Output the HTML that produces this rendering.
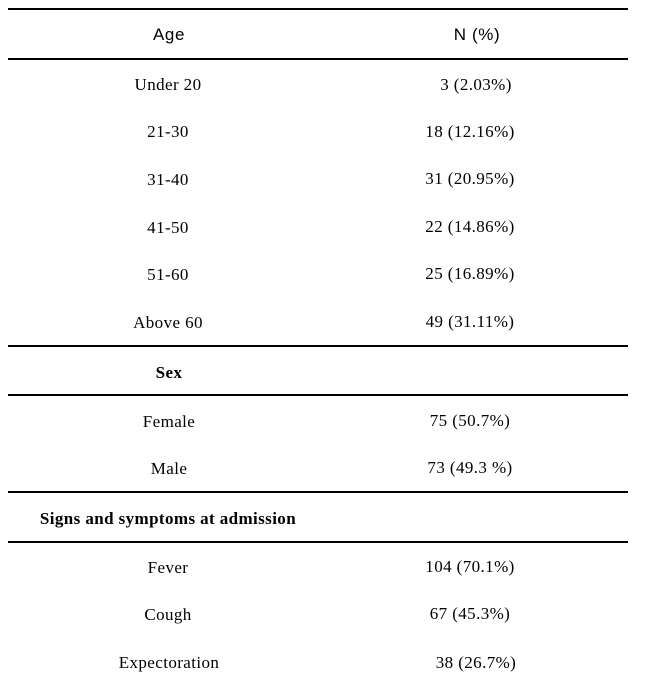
<!DOCTYPE html>
<html><head><style>
body{margin:0;width:647px;height:679px;background:#fff;position:relative;overflow:hidden;font-family:"Liberation Serif",serif;font-size:17px;letter-spacing:0.4px;color:#000}
.l{position:absolute;left:8px;width:620px;height:2px;background:#000}
.t{position:absolute;transform:translate(-50%,-50%);white-space:nowrap}
.s{font-family:"Liberation Sans",sans-serif;font-size:17px;letter-spacing:0.6px}
b{font-weight:bold}
</style></head><body>
<div class="l" style="top:8px"></div>
<div class="l" style="top:58px"></div>
<div class="l" style="top:345px"></div>
<div class="l" style="top:394px"></div>
<div class="l" style="top:491px"></div>
<div class="l" style="top:541px"></div>
<div class="t s" style="left:169px;top:35px">Age</div>
<div class="t s" style="left:477px;top:35px">N (%)</div>
<div class="t" style="left:168px;top:85px">Under 20</div><div class="t" style="left:476px;top:85px">3 (2.03%)</div>
<div class="t" style="left:168px;top:132px">21-30</div><div class="t" style="left:470px;top:132px">18 (12.16%)</div>
<div class="t" style="left:168px;top:180px">31-40</div><div class="t" style="left:470px;top:179px">31 (20.95%)</div>
<div class="t" style="left:168px;top:228px">41-50</div><div class="t" style="left:470px;top:227px">22 (14.86%)</div>
<div class="t" style="left:168px;top:275px">51-60</div><div class="t" style="left:470px;top:274px">25 (16.89%)</div>
<div class="t" style="left:168px;top:323px">Above 60</div><div class="t" style="left:470px;top:322px">49 (31.11%)</div>
<div class="t" style="left:169px;top:373px"><b>Sex</b></div>
<div class="t" style="left:169px;top:422px">Female</div><div class="t" style="left:470px;top:421px">75 (50.7%)</div>
<div class="t" style="left:169px;top:469px">Male</div><div class="t" style="left:470px;top:468px">73 (49.3 %)</div>
<div class="t" style="left:168px;top:519px"><b>Signs and symptoms at admission</b></div>
<div class="t" style="left:168px;top:568px">Fever</div><div class="t" style="left:470px;top:567px">104 (70.1%)</div>
<div class="t" style="left:168px;top:615px">Cough</div><div class="t" style="left:470px;top:614px">67 (45.3%)</div>
<div class="t" style="left:169px;top:663px">Expectoration</div><div class="t" style="left:476px;top:663px">38 (26.7%)</div>
</body></html>
